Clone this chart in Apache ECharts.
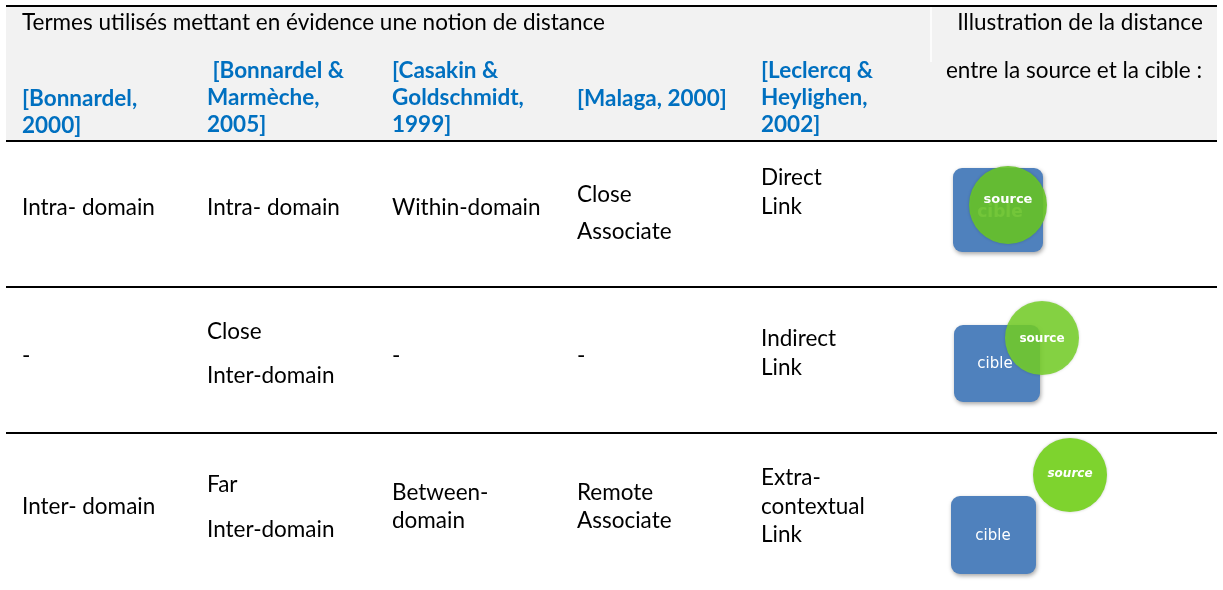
<!DOCTYPE html>
<html>
<head>
<meta charset="utf-8">
<script src="https://cdn.jsdelivr.net/npm/echarts@6/dist/echarts.min.js"></script>
<style>html,body{margin:0;padding:0;background:#fff;}#c{width:1223px;height:590px;}</style>
</head>
<body>
<div id="c"></div>
<script>
// ---- data ----
const titleLeft = "Termes utilisés mettant en évidence une notion de distance";
const titleRight = ["Illustration de la distance", "entre la source et la cible :"];
const references = [
  ["[Bonnardel,", "2000]"],
  [" [Bonnardel &", "Marmèche,", "2005]"],
  ["[Casakin &", "Goldschmidt,", "1999]"],
  ["[Malaga, 2000]"],
  ["[Leclercq &", "Heylighen,", "2002]"]
];
const rowIntra = [["Intra- domain"], ["Intra- domain"], ["Within-domain"], ["Close", "Associate"], ["Direct", "Link"]];
const rowClose = [["-"], ["Close", "Inter-domain"], ["-"], ["-"], ["Indirect", "Link"]];
const rowInter = [["Inter- domain"], ["Far", "Inter-domain"], ["Between-", "domain"], ["Remote", "Associate"], ["Extra-", "contextual", "Link"]];
const sourceLabel = "source";
const cibleLabel = "cible";

// ---- layout ----
const FONT = "Lato, 'Noto Sans', sans-serif";
const FS = 22.5;
const colX = [22, 207, 392, 577, 761];
const refFirstY = [99, 71, 71, 99, 71];
const refGap = 27;
const bodyRows = [rowIntra, rowClose, rowInter];
const bodyFirstY = [[208, 208, 208, 195, 178], [356, 332, 356, 356, 339], [507, 485, 493, 493, 478]];
const bodyGap = [[0, 0, 0, 37, 29], [0, 44, 0, 0, 29], [0, 45, 28, 28, 28.5]];
const ruleY = [6, 141, 287, 433];
const illus = [
  {sq: [953, 168, 90, 84], c: [1008, 205, 39], cib: [1000, 213], src: [1008, 200], fill: 'rgba(104,196,40,0.9)', cibSize: 17, cibWeight: 'bold', italic: false, srcSize: 13},
  {sq: [954, 325, 86, 77], c: [1042, 338, 37], cib: [995, 364], src: [1042, 339], fill: 'rgba(118,208,40,0.85)', cibSize: 15, cibWeight: 'normal', italic: false, srcSize: 12},
  {sq: [951, 496, 85, 78], c: [1070, 475, 37], cib: [993, 536], src: [1070, 474], fill: '#7ed32e', cibSize: 15, cibWeight: 'normal', italic: true, srcSize: 12}
];

const els = [];
els.push({type: 'rect', shape: {x: 6, y: 7, width: 1211, height: 134}, style: {fill: '#f2f2f2'}, z: 0});
els.push({type: 'line', shape: {x1: 931, y1: 7, x2: 931, y2: 62}, style: {stroke: '#ffffff', lineWidth: 1.5}, z: 1});
ruleY.forEach(y => {
  els.push({type: 'line', shape: {x1: 6, y1: y, x2: 1217, y2: y}, style: {stroke: '#000', lineWidth: 2}, z: 2});
});
function txt(x, y, s, opt) {
  opt = opt || {};
  els.push({type: 'text', x: x, y: y, z: opt.z || 5, style: {
    text: s, fontFamily: opt.family || FONT, fontSize: opt.size || FS, fontWeight: opt.weight || 'normal',
    fontStyle: opt.style || 'normal', fill: opt.fill || '#000', align: opt.align || 'left', verticalAlign: 'middle'
  }});
}
txt(22, 23, titleLeft);
txt(1080, 23, titleRight[0], {align: 'center'});
txt(1074, 71, titleRight[1], {align: 'center'});
references.forEach((lines, i) => {
  lines.forEach((l, j) => txt(colX[i], refFirstY[i] + j * refGap, l, {weight: 'bold', fill: '#0070c0'}));
});
bodyRows.forEach((row, r) => {
  row.forEach((lines, i) => {
    lines.forEach((l, j) => txt(colX[i], bodyFirstY[r][i] + j * bodyGap[r][i], l));
  });
});
illus.forEach(d => {
  els.push({type: 'rect', shape: {x: d.sq[0], y: d.sq[1], width: d.sq[2], height: d.sq[3], r: 9},
    style: {fill: '#4f81bd', shadowBlur: 4, shadowColor: 'rgba(0,0,0,0.35)', shadowOffsetY: 2, shadowOffsetX: 1}, z: 10});
  txt(d.cib[0], d.cib[1], cibleLabel, {align: 'center', size: d.cibSize, weight: d.cibWeight, fill: '#ffffff', family: "'DejaVu Sans', sans-serif", z: 11});
  els.push({type: 'circle', shape: {cx: d.c[0], cy: d.c[1], r: d.c[2]},
    style: {fill: d.fill, shadowBlur: 3, shadowColor: 'rgba(0,0,0,0.2)'}, z: 12});
  txt(d.src[0], d.src[1], sourceLabel, {align: 'center', size: d.srcSize, weight: 'bold', style: d.italic ? 'italic' : 'normal', fill: '#fff', family: "'DejaVu Sans', sans-serif", z: 13});
});

const chart = echarts.init(document.getElementById('c'), null, {renderer: 'canvas'});
chart.setOption({backgroundColor: '#ffffff', animation: false, graphic: {elements: els}});
</script>
</body>
</html>
